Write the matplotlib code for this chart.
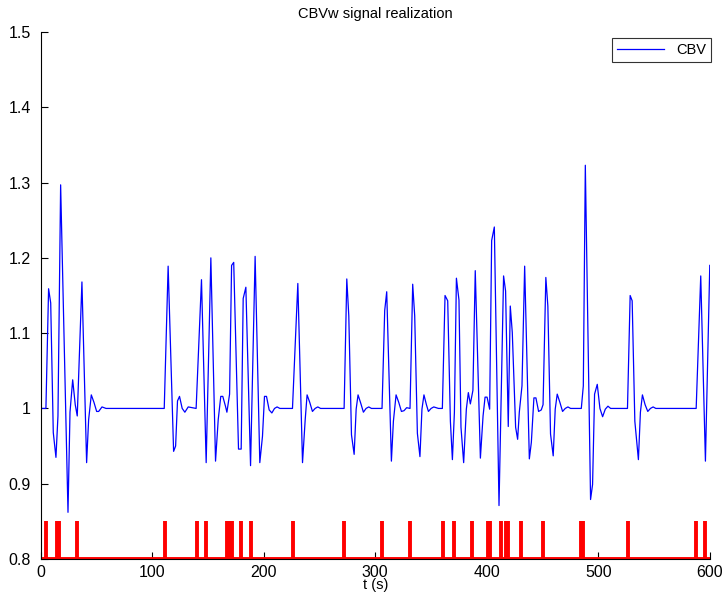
import matplotlib
matplotlib.use("Agg")
import matplotlib.pyplot as plt

plt.rcParams['font.family'] = ['Liberation Sans', 'DejaVu Sans']

# CBV signal vertices: time (s) and value
t_cbv = [0, 4.7, 7.1, 9.0, 11.3, 13.7, 15.5, 17.9, 24.5, 26.3, 28.7, 31.0, 32.8,
         37.0, 41.2, 43.0, 45.4, 47.8, 50.2, 52.0, 55.0, 58.6,
         110.8, 114.3, 119.2, 121.0, 122.7, 124.5, 126.9, 129.3, 132.3, 139.4,
         144.2, 148.4, 152.6, 156.8, 159.2, 161.5, 163.3, 165.7, 167.0, 169.4,
         171.2, 173.1, 177.4, 179.8, 181.6, 184.0, 188.2, 192.3, 196.5, 198.9,
         200.7, 202.5, 204.9, 207.3, 209.7, 212.0, 214.5,
         225.8, 230.6, 234.8, 237.2, 238.9, 241.3, 243.7, 246.1, 248.5, 251.0,
         272.1, 274.5, 276.3, 278.7, 281.1, 282.9, 284.6, 287.0, 289.4, 291.8,
         294.2, 296.6,
         306.1, 308.5, 310.3, 314.5, 316.3, 318.7, 321.1, 323.5, 325.8, 328.2,
         331.2, 333.6, 335.4, 337.8, 340.1, 341.9, 343.7, 345.9, 347.7, 350.1,
         352.5, 356.7,
         360.2, 362.6, 365.0, 367.4, 369.2, 371.0, 372.8, 375.1, 376.9, 379.3,
         381.7, 383.5, 385.3, 387.6, 389.7, 394.3, 396.7, 398.5, 400.3, 402.6,
         404.4, 406.8, 411.0, 415.1, 416.9, 419.3, 421.1, 422.9, 425.9, 427.7,
         429.2, 431.6, 434.0, 438.2, 440.0, 442.3, 444.1, 446.5, 448.9, 450.5,
         453.0, 454.8, 457.2, 459.6, 461.4, 463.2, 465.6, 468.0, 470.4, 472.8,
         475.2,
         484.8, 486.6, 488.4, 493.1, 494.9, 496.7, 499.1, 501.5, 503.9, 506.3,
         508.7, 511.1,
         526.2, 528.6, 530.4, 532.8, 536.0, 537.8, 539.6, 542.0, 544.4, 546.8,
         549.2, 551.6,
         587.8, 591.9, 596.1, 600.0]

cbv = [1.0, 1.0, 1.159, 1.14, 0.968, 0.935, 0.99, 1.297, 0.862, 0.995, 1.038, 1.005, 0.99,
       1.168, 0.928, 0.985, 1.018, 1.008, 0.996, 0.996, 1.002, 1.0,
       1.0, 1.189, 0.943, 0.95, 1.01, 1.016, 1.0, 0.995, 1.002, 1.0,
       1.171, 0.928, 1.2, 0.93, 0.985, 1.016, 1.016, 1.003, 0.995, 1.019,
       1.19, 1.194, 0.946, 0.946, 1.146, 1.161, 0.924, 1.202, 0.928, 0.963,
       1.016, 1.016, 0.998, 0.994, 1.0, 1.002, 1.0,
       1.0, 1.166, 0.928, 0.985, 1.018, 1.008, 0.996, 1.0, 1.002, 1.0,
       1.0, 1.172, 1.123, 0.965, 0.939, 0.999, 1.018, 1.007, 0.995, 1.0,
       1.002, 1.0,
       1.0, 1.13, 1.155, 0.93, 0.983, 1.018, 1.008, 0.996, 0.997, 1.001,
       1.0, 1.165, 1.123, 0.967, 0.936, 0.999, 1.018, 1.005, 0.996, 1.0,
       1.002, 1.0,
       1.0, 1.15, 1.143, 0.983, 0.932, 0.995, 1.173, 1.144, 0.975, 0.928,
       0.999, 1.021, 1.006, 1.024, 1.183, 0.934, 0.99, 1.015, 1.015, 0.999,
       1.223, 1.241, 0.871, 1.176, 1.156, 0.976, 1.136, 1.101, 0.975, 0.959,
       0.995, 1.03, 1.189, 0.933, 0.955, 1.014, 1.014, 0.996, 0.998, 1.005,
       1.174, 1.136, 0.966, 0.937, 0.999, 1.019, 1.008, 0.996, 1.0, 1.002,
       1.0,
       1.0, 1.03, 1.323, 0.879, 0.899, 1.019, 1.032, 1.0, 0.989, 0.999,
       1.003, 1.0,
       1.0, 1.15, 1.143, 0.983, 0.932, 0.995, 1.018, 1.005, 0.996, 1.0,
       1.002, 1.0,
       1.0, 1.176, 0.93, 1.19]

# Stimulus onset times (s)
events = [4.7, 14.5, 16.5, 32.8, 111.4, 139.8, 148.7, 167.5, 169.5, 171.5,
          179.7, 188.7, 226.4, 271.8, 306.1, 331.0, 360.5, 370.6, 386.5,
          401.5, 403.0, 413.0, 417.5, 419.0, 430.8, 450.4, 484.5, 486.0,
          526.6, 587.8, 596.1]
stim_base = 0.8
stim_top = 0.85

xticks = [0, 100, 200, 300, 400, 500, 600]
yticks = [0.8, 0.9, 1.0, 1.1, 1.2, 1.3, 1.4, 1.5]
ytick_labels = ['0.8', '0.9', '1', '1.1', '1.2', '1.3', '1.4', '1.5']

fig = plt.figure(figsize=(7.25, 6.04), dpi=100)
ax = fig.add_axes([0.0561, 0.0745, 0.9229, 0.8725])

line, = ax.plot(t_cbv, cbv, color='#0000ff', linewidth=0.9, label='CBV')
ax.vlines(events, stim_base, stim_top, color='#ff0000', linewidth=2.8)
ax.hlines(stim_base, 0, 600, color='#ff0000', linewidth=2.8)

ax.set_xlim(0, 600)
ax.set_ylim(0.8, 1.5)
ax.set_xticks(xticks)
ax.set_yticks(yticks)
ax.set_yticklabels(ytick_labels)
ax.tick_params(direction='in', length=5, width=0.8, labelsize=11.5)
ax.tick_params(axis='y', pad=7)
ax.tick_params(axis='x', pad=4)
ax.spines['top'].set_visible(False)
ax.spines['right'].set_visible(False)
for s in ('left', 'bottom'):
    ax.spines[s].set_linewidth(0.8)

ax.set_title('CBVw signal realization', fontsize=10.5, pad=10)
ax.set_xlabel('t (s)', fontsize=10.5, labelpad=-1)

leg = ax.legend(handles=[line], loc='upper right', bbox_to_anchor=(1.006, 0.995),
                fontsize=10.5, frameon=True, fancybox=False, borderpad=0.35,
                handlelength=3.2, handletextpad=0.8, borderaxespad=0.2)
leg.get_frame().set_edgecolor('black')
leg.get_frame().set_linewidth(0.8)

fig.savefig('out.png', dpi=100)
